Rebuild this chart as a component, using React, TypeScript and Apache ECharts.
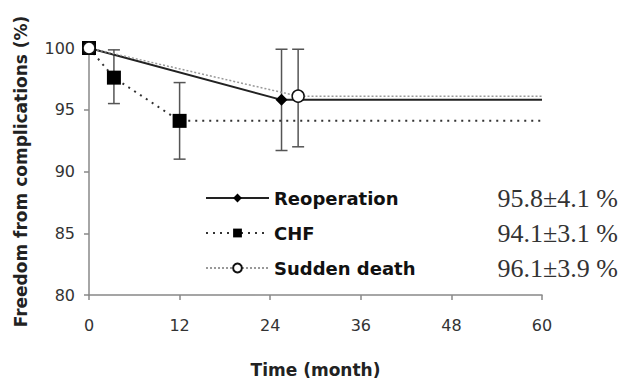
import React, { useEffect, useRef } from "react";
import * as echarts from "echarts";

const seriesNames = ["Reoperation", "CHF", "Sudden death"];
const reopTimes = [0, 25.5, 60];
const reopValues = [100, 95.8, 95.8];
const chfTimes = [0, 3.3, 12, 60];
const chfValues = [100, 97.6, 94.1, 94.1];
const sdTimes = [0, 27.7, 60];
const sdValues = [100, 96.1, 96.1];

const errTimes = [25.5, 27.7, 3.3, 12];
const errLows = [91.7, 92.0, 95.5, 91.0];
const errHighs = [99.9, 99.9, 99.85, 97.2];

const summaryTexts = ["95.8±4.1 %", "94.1±3.1 %", "96.1±3.9 %"];

const xTicks = [0, 12, 24, 36, 48, 60];
const yTicks = [80, 85, 90, 95, 100];

function pts(times: number[], vals: number[]) {
  return times.map((t, i) =>
    i === times.length - 1 && t === 60 ? { value: [t, vals[i]], symbol: "none" } : { value: [t, vals[i]] }
  );
}

export default function App() {
  const ref = useRef<HTMLDivElement>(null);
  useEffect(() => {
    if (!ref.current) return;
    const chart = echarts.init(ref.current, null, { renderer: "svg" });
    const sans = "DejaVu Sans";
    chart.setOption({
      animation: false,
      backgroundColor: "#fff",
      grid: { left: 89, right: 82, top: 48, bottom: 77 },
      xAxis: {
        type: "value",
        min: xTicks[0],
        max: xTicks[xTicks.length - 1],
        interval: 12,
        name: "Time (month)",
        nameLocation: "middle",
        nameGap: 66,
        nameTextStyle: { fontFamily: sans, fontWeight: "bold", fontSize: 17, color: "#222" },
        axisLine: { lineStyle: { color: "#888", width: 1.5 } },
        axisTick: { show: true, length: 5, lineStyle: { color: "#888", width: 1.5 } },
        axisLabel: { fontFamily: sans, fontSize: 16, color: "#333", margin: 22 },
        splitLine: { show: false },
      },
      yAxis: {
        type: "value",
        min: yTicks[0],
        max: yTicks[yTicks.length - 1],
        interval: 5,
        name: "Freedom from complications (%)",
        nameLocation: "middle",
        nameGap: 60,
        nameRotate: 90,
        nameTextStyle: { fontFamily: sans, fontWeight: "bold", fontSize: 17, color: "#222" },
        axisLine: { show: true, lineStyle: { color: "#888", width: 1.5 } },
        axisTick: { show: true, length: 5, lineStyle: { color: "#888", width: 1.5 } },
        axisLabel: { fontFamily: sans, fontSize: 16, color: "#333", margin: 14 },
        splitLine: { show: false },
      },
      legend: {
        orient: "vertical",
        left: 200,
        top: 183,
        itemWidth: 63,
        itemHeight: 11,
        itemGap: 15,
        data: seriesNames,
        textStyle: { fontFamily: sans, fontWeight: "bold", fontSize: 18, color: "#111", lineHeight: 20 },
      },
      graphic: summaryTexts.map((t, i) => ({
        type: "text",
        right: 6,
        top: 185 + i * 35,
        style: { text: t, font: '26px "Liberation Serif"', fill: "#333" },
      })),
      series: [
        {
          type: "custom",
          name: "errors",
          silent: true,
          z: 1,
          data: errTimes.map((t, i) => [t, errLows[i], errHighs[i]]),
          encode: { x: 0, y: [1, 2] },
          renderItem: (params: any, api: any) => {
            const x = api.value(0);
            const lo = api.coord([x, api.value(1)]);
            const hi = api.coord([x, api.value(2)]);
            const cap = 6;
            const style = { stroke: "#555", lineWidth: 1.5 };
            return {
              type: "group",
              children: [
                { type: "line", shape: { x1: lo[0], y1: lo[1], x2: hi[0], y2: hi[1] }, style },
                { type: "line", shape: { x1: lo[0] - cap, y1: lo[1], x2: lo[0] + cap, y2: lo[1] }, style },
                { type: "line", shape: { x1: hi[0] - cap, y1: hi[1], x2: hi[0] + cap, y2: hi[1] }, style },
              ],
            };
          },
        },
        {
          type: "line",
          name: seriesNames[0],
          z: 3,
          data: pts(reopTimes, reopValues),
          symbol: "diamond",
          symbolSize: 12,
          lineStyle: { color: "#222", width: 2 },
          itemStyle: { color: "#000", borderWidth: 0 },
        },
        {
          type: "line",
          name: seriesNames[1],
          z: 4,
          data: pts(chfTimes, chfValues),
          symbol: "rect",
          symbolSize: 14,
          lineStyle: { color: "#333", width: 2, type: [2, 5] },
          itemStyle: { color: "#000", borderWidth: 0 },
        },
        {
          type: "line",
          name: seriesNames[2],
          z: 5,
          data: pts(sdTimes, sdValues),
          symbol: "circle",
          symbolSize: 12,
          lineStyle: { color: "#999", width: 1.5, type: [2, 2] },
          itemStyle: { color: "#fff", borderColor: "#111", borderWidth: 1.5 },
        },
      ],
    });
    return () => chart.dispose();
  }, []);
  return (
    <div
      ref={ref}
      style={{ position: "absolute", left: 0, top: 0, width: 624, height: 383 }}
    />
  );
}
